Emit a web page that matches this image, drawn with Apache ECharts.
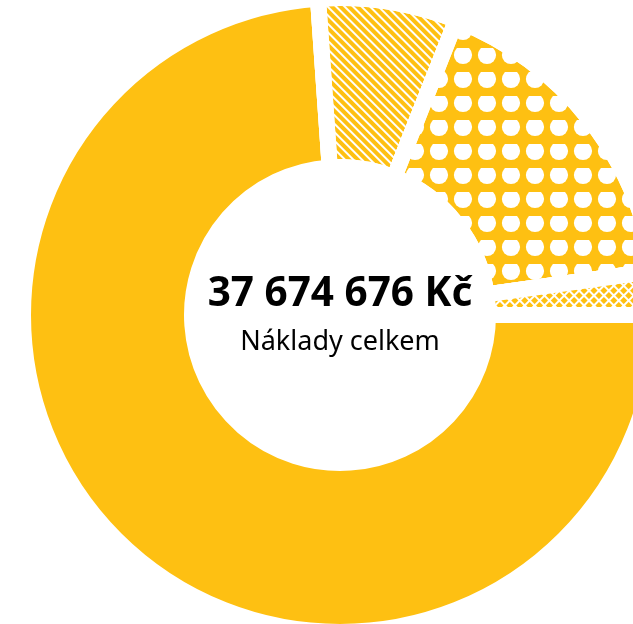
<!DOCTYPE html>
<html>
<head>
<meta charset="utf-8">
<script src="https://cdn.jsdelivr.net/npm/echarts@6/dist/echarts.min.js"></script>
<style>
  html, body { margin: 0; padding: 0; background: #fff; }
  #main { width: 633px; height: 624px; }
</style>
</head>
<body>
<div id="main"></div>
<script>
// hodnoty odhadnuté z grafu (součet = 37 674 676 Kč)
var categories = ['Položka A', 'Položka B', 'Položka C', 'Položka D'];
var values = [27840000, 2668000, 6330000, 836676];
var totalText = '37 674 676 Kč';
var subText = 'Náklady celkem';

var yellow = '#FEC012';

var chart = echarts.init(document.getElementById('main'), null, { renderer: 'canvas' });

// vzory výplní jednotlivých výsečí
var fills = [
  { color: yellow },
  {
    color: yellow,
    decal: { symbol: 'rect', color: '#fff', dashArrayX: [1, 0], dashArrayY: [2, 4], rotation: Math.PI / 4 }
  },
  {
    color: yellow,
    decal: { symbol: 'circle', color: '#fff', symbolSize: 1.3, dashArrayX: [14, 10], dashArrayY: [14, 10], rotation: 0 }
  },
  {
    color: '#fff',
    decal: { symbol: 'rect', color: yellow, symbolSize: 1, dashArrayX: [5, 2], dashArrayY: [5, 2], rotation: Math.PI / 4 }
  }
];

var data = [];
for (var i = 0; i < categories.length; i++) {
  data.push({
    name: categories[i],
    value: values[i],
    itemStyle: fills[i]
  });
}

var option = {
  animation: false,
  backgroundColor: '#fff',
  series: [{
    type: 'pie',
    center: [340, 315],
    radius: [148, 317],
    startAngle: 0,
    clockwise: true,
    silent: true,
    label: { show: false },
    labelLine: { show: false },
    itemStyle: {
      borderColor: '#fff',
      borderWidth: 16
    },
    data: data
  }],
  graphic: [{
    type: 'text',
    x: 340,
    y: 294,
    style: {
      text: totalText,
      align: 'center',
      verticalAlign: 'middle',
      fill: '#000',
      font: 'bold 40.5px "Noto Sans"'
    }
  }, {
    type: 'text',
    x: 340,
    y: 342,
    style: {
      text: subText,
      align: 'center',
      verticalAlign: 'middle',
      fill: '#000',
      font: '27px "Noto Sans"'
    }
  }]
};

chart.setOption(option);
</script>
</body>
</html>
